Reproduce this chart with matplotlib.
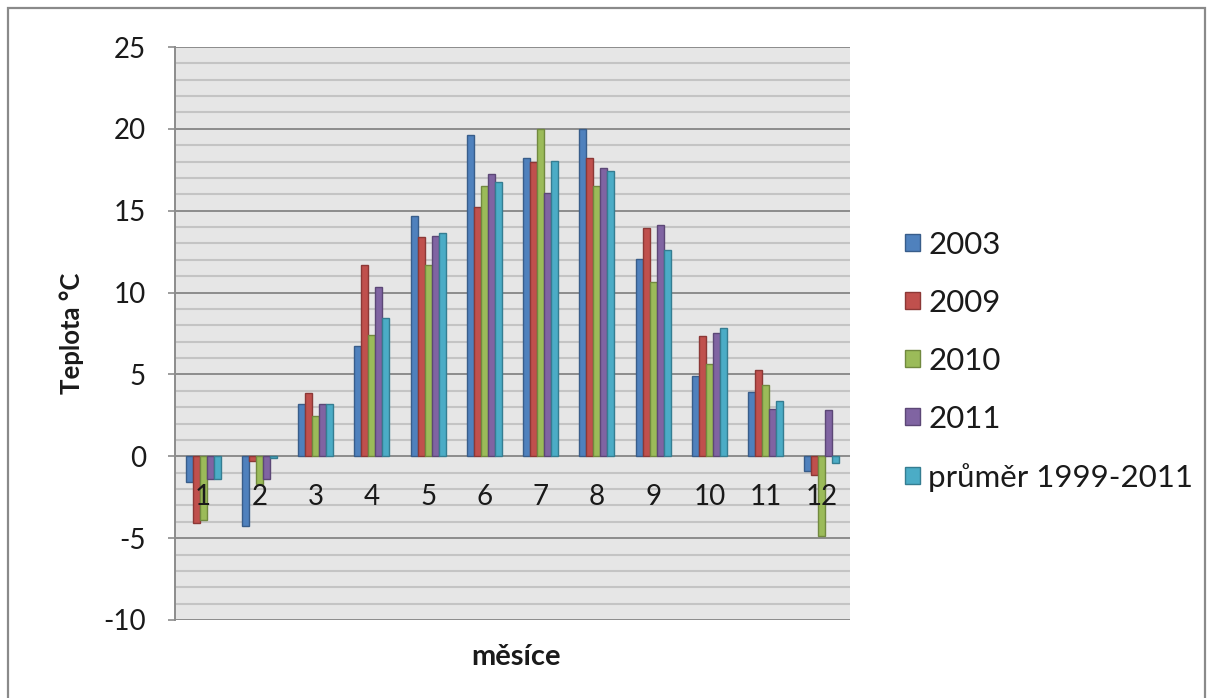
import matplotlib
matplotlib.use("Agg")
import matplotlib.pyplot as plt
from matplotlib.patches import Rectangle
import numpy as np

plt.rcParams['font.family'] = ['Lato', 'DejaVu Sans']

# Monthly mean temperatures (°C)
months = ["1", "2", "3", "4", "5", "6", "7", "8", "9", "10", "11", "12"]
series_names = ["2003", "2009", "2010", "2011", "průměr 1999-2011"]
t2003 = [-1.6, -4.25, 3.2, 6.75, 14.7, 19.6, 18.2, 20.0, 12.05, 4.9, 3.95, -0.9]
t2009 = [-4.05, -0.3, 3.85, 11.7, 13.4, 15.25, 18.0, 18.2, 13.95, 7.35, 5.3, -1.15]
t2010 = [-3.9, -1.7, 2.45, 7.4, 11.7, 16.5, 20.0, 16.5, 10.65, 5.65, 4.35, -4.85]
t2011 = [-1.4, -1.4, 3.2, 10.35, 13.45, 17.25, 16.1, 17.6, 14.15, 7.55, 2.9, 2.85]
avg = [-1.4, -0.1, 3.2, 8.45, 13.65, 16.75, 18.05, 17.4, 12.6, 7.85, 3.4, -0.4]
series = [t2003, t2009, t2010, t2011, avg]

colors = ["#4F81BD", "#C0504D", "#9BBB59", "#8064A2", "#4BACC6"]
edges = ["#385D8A", "#8C3836", "#71893F", "#5C4776", "#357D91"]

W, H = 1212, 698
fig = plt.figure(figsize=(W / 100, H / 100), dpi=100)
fig.patch.set_facecolor("white")

# chart area border
fig.add_artist(Rectangle((8 / W, -0.01), (1205 - 8) / W, (H - 8) / H + 0.01,
                         transform=fig.transFigure, fill=False,
                         edgecolor="#8A8A8A", linewidth=1.6))

ax = fig.add_axes([175 / W, (H - 620) / H, 675 / W, 573 / H])
ax.set_facecolor("#E6E6E6")
ax.set_xlim(-0.5, 11.5)
ax.set_ylim(-10, 25)

# gridlines: minor every 1 °C, major every 5 °C
for v in range(-10, 26):
    if v % 5 == 0:
        ax.axhline(v, color="#8C8C8C", lw=1.4, zorder=1)
    else:
        ax.axhline(v, color="#C4C4C4", lw=1.5, zorder=1)

x = np.arange(len(months))
bw = 0.1244
for k, (vals, c, ec, name) in enumerate(zip(series, colors, edges, series_names)):
    ax.bar(x + (k - 2) * bw, vals, width=bw, color=c, edgecolor=ec,
           linewidth=1.0, zorder=3, label=name)

for s in ["top", "right", "bottom"]:
    ax.spines[s].set_visible(False)
ax.spines["left"].set_color("#8C8C8C")
ax.spines["left"].set_linewidth(1.4)

ax.set_yticks(range(-10, 26, 5))
ax.set_yticklabels([str(v) for v in range(-10, 26, 5)])
ax.tick_params(axis="y", length=5, width=1.2, color="#8C8C8C", pad=16,
               labelsize=20, labelcolor="#1A1A1A")

ax.set_xticks([])
for i, m in enumerate(months):
    ax.text(i, -2.5, m, ha="center", va="center", fontsize=20,
            color="#1A1A1A", zorder=4)

fig.text(72 / W, 1 - 333 / H, "Teplota °C", rotation=90, ha="center",
         va="center", fontsize=18.5, fontweight="bold", color="#1A1A1A")
fig.text(516 / W, 1 - 657 / H, "měsíce", ha="center", va="center",
         fontsize=21, fontweight="bold", color="#1A1A1A")

handles, labels = ax.get_legend_handles_labels()
leg = fig.legend(handles, labels, loc="upper left",
                 bbox_to_anchor=(889 / W, 1 - 215 / H), frameon=False,
                 fontsize=22.5, handlelength=0.5, handleheight=0.5,
                 handletextpad=0.25, labelspacing=0.96, borderpad=0)
for t in leg.get_texts():
    t.set_color("#1A1A1A")

fig.savefig("out.png", dpi=100, facecolor="white")
